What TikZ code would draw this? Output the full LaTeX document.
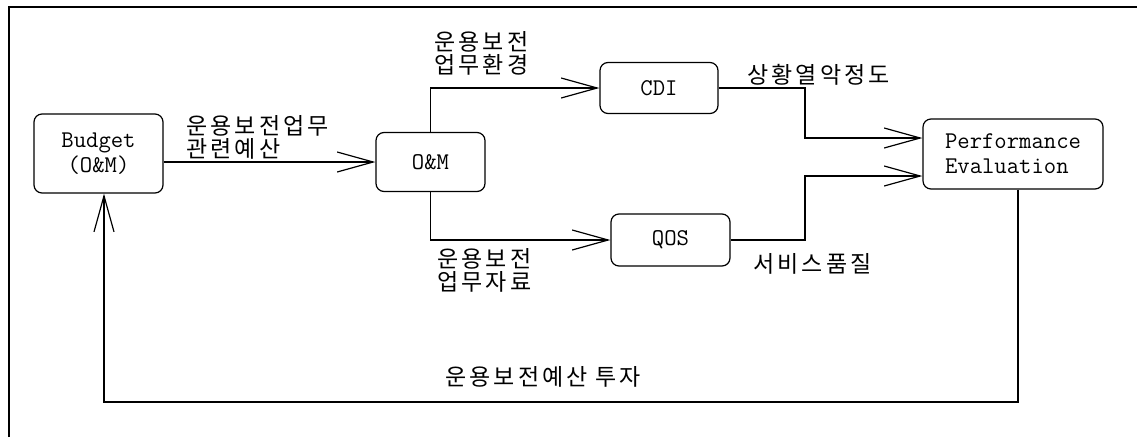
\documentclass[tikz,border=0pt]{standalone}
\usepackage{fontspec}
\setmainfont{Noto Sans CJK KR}
\newfontfamily\krfont[LetterSpace=13]{Noto Sans CJK KR}
\usetikzlibrary{arrows.meta}
\tikzset{every picture/.style={line width=1.2pt}}
\tikzset{
	box/.style={draw, rounded corners=8pt, inner sep=0pt, font=\ttfamily\fontsize{24}{25}\selectfont},
	lbl/.style={inner sep=0pt, anchor=west, align=left, font=\krfont\fontsize{23}{23}\selectfont},
	barb/.style={-{Straight Barb[length=36pt,width=20pt]}}}

\begin{document}
\begin{tikzpicture}[x=1pt,y=1pt,yscale=-1]
	\useasboundingbox (0,0) rectangle (1137,437);

	%Frame
	\draw [line width=1.5pt] (9,437) -- (9,7) -- (1137,7);

	%Shape: Rounded Rect [budget]
	\node [box, minimum width=129pt, minimum height=79pt, align=center] (budget) at (98.5,153.5) {Budget\\(O\&M)};
	%Shape: Rounded Rect [om]
	\node [box, minimum width=109pt, minimum height=59pt] (om) at (430.5,162) {O\&M};
	%Shape: Rounded Rect [cdi]
	\node [box, minimum width=118pt, minimum height=51pt] (cdi) at (659,88) {CDI};
	%Shape: Rounded Rect [qos]
	\node [box, minimum width=119pt, minimum height=52pt] (qos) at (670.5,240) {QOS};
	%Shape: Rounded Rect [perf]
	\node [box, minimum width=180pt, minimum height=70pt, align=left] (perf) at (1013,154) {Performance\\Evaluation};

	%Straight Lines
	\draw [barb] (budget.east |- om.west) -- (om.west);
	\draw [barb] (om.north) |- (cdi.west);
	\draw [barb] (om.south) |- (qos.west);
	\coordinate (cdiTurn) at (805,138);
	\coordinate (qosTurn) at (805,176);
	\draw [barb] (cdi.east) -| (cdiTurn) -- (cdiTurn -| perf.west);
	\draw [barb] (qos.east) -| (qosTurn) -- (qosTurn -| perf.west);
	\coordinate (fbRight) at (1018,402);
	\coordinate (fbLeft) at (104,402);
	\draw [barb] (fbRight |- perf.south) -- (fbRight) -- (fbLeft) -- (fbLeft |- budget.south);

	% Text Node
	\node [lbl] (lblBudget) at (186,137.5) {운용보전업무\\관련예산};
	% Text Node
	\node [lbl] (lblCdiIn) at (434,53.5) {운용보전\\업무환경};
	% Text Node
	\node [lbl] (lblQosIn) at (437,270) {운용보전\\업무자료};
	% Text Node
	\node [lbl] (lblCdiOut) at (747,75) {상황열악정도};
	% Text Node
	\node [lbl] (lblQosOut) at (753,264) {서비스품질};
	% Text Node
	\node [lbl] (lblInvest) at (445,377) {운용보전예산 투자};

\end{tikzpicture}
\end{document}
